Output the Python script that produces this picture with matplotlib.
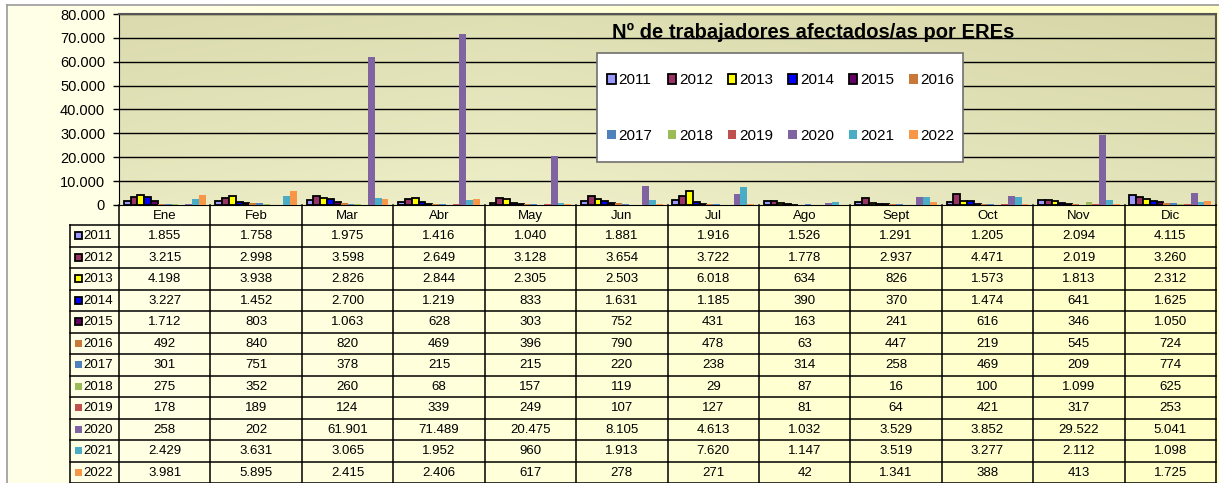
import numpy as np
import matplotlib
matplotlib.use('Agg')
import matplotlib.pyplot as plt
from matplotlib.patches import Rectangle
from matplotlib.colors import to_rgb

plt.rcParams['font.family'] = ['Liberation Sans', 'DejaVu Sans']

# ---------------- data ----------------
months = ['Ene', 'Feb', 'Mar', 'Abr', 'May', 'Jun', 'Jul', 'Ago', 'Sept', 'Oct', 'Nov', 'Dic']
years = ['2011', '2012', '2013', '2014', '2015', '2016', '2017', '2018', '2019', '2020', '2021', '2022']

v2011 = [1855, 1758, 1975, 1416, 1040, 1881, 1916, 1526, 1291, 1205, 2094, 4115]
v2012 = [3215, 2998, 3598, 2649, 3128, 3654, 3722, 1778, 2937, 4471, 2019, 3260]
v2013 = [4198, 3938, 2826, 2844, 2305, 2503, 6018, 634, 826, 1573, 1813, 2312]
v2014 = [3227, 1452, 2700, 1219, 833, 1631, 1185, 390, 370, 1474, 641, 1625]
v2015 = [1712, 803, 1063, 628, 303, 752, 431, 163, 241, 616, 346, 1050]
v2016 = [492, 840, 820, 469, 396, 790, 478, 63, 447, 219, 545, 724]
v2017 = [301, 751, 378, 215, 215, 220, 238, 314, 258, 469, 209, 774]
v2018 = [275, 352, 260, 68, 157, 119, 29, 87, 16, 100, 1099, 625]
v2019 = [178, 189, 124, 339, 249, 107, 127, 81, 64, 421, 317, 253]
v2020 = [258, 202, 61901, 71489, 20475, 8105, 4613, 1032, 3529, 3852, 29522, 5041]
v2021 = [2429, 3631, 3065, 1952, 960, 1913, 7620, 1147, 3519, 3277, 2112, 1098]
v2022 = [3981, 5895, 2415, 2406, 617, 278, 271, 42, 1341, 388, 413, 1725]

series = [v2011, v2012, v2013, v2014, v2015, v2016, v2017, v2018, v2019, v2020, v2021, v2022]
colors = ['#9999FF', '#993366', '#FFFF00', '#0000FF', '#660066', '#C87838',
          '#4F81BD', '#9BBB59', '#C0504D', '#8064A2', '#4BACC6', '#F79646']
edged = [True] * 5 + [False] * 7

title = 'Nº de trabajadores afectados/as por EREs'

# ---------------- layout ----------------
W, H = 1219, 483
fig = plt.figure(figsize=(W / 100, H / 100), dpi=100)
fig.patch.set_facecolor('white')


def fx(px):
    return px / W


def fy(py):
    return 1 - py / H


# chart area background (light yellow gradient)
bg = fig.add_axes([fx(7), 0, 1 - fx(7), fy(5)], zorder=0)
c1, c2 = np.array(to_rgb('#FFFFE8')), np.array(to_rgb('#FFFFC6'))
t = np.linspace(0, 1, 256)
grad = c1[None, :] * (1 - t[:, None]) + c2[None, :] * t[:, None]
bg.imshow(grad[None, :, :], extent=[0, 1, 0, 1], aspect='auto', transform=bg.transAxes)
bg.set_xlim(0, 1)
bg.set_ylim(0, 1)
bg.set_xticks([])
bg.set_yticks([])
for s in ['right', 'bottom']:
    bg.spines[s].set_visible(False)
for s in ['top', 'left']:
    bg.spines[s].set_color('#9a9a9a')
    bg.spines[s].set_linewidth(1.2)

# plot area
ax = fig.add_axes([fx(119), fy(205), fx(1216) - fx(119), fy(14) - fy(205)], zorder=2)
dark, light = np.array(to_rgb('#D6D6A8')), np.array(to_rgb('#EEEEC8'))
xn = np.linspace(0, 1, 200)[None, :]
yn = np.linspace(0, 1, 100)[:, None]
L = 0.6 * yn + 0.4 * np.clip(1 - np.abs(xn - 0.35) / 0.65, 0, 1)
img = dark[None, None, :] * (1 - L[..., None]) + light[None, None, :] * L[..., None]
ax.imshow(img, extent=[0, 1, 0, 1], aspect='auto', transform=ax.transAxes, zorder=0)

x = np.arange(len(months))
bw = 0.0745
for i, (vals, c, e) in enumerate(zip(series, colors, edged)):
    off = (i - (len(series) - 1) / 2) * bw
    ax.bar(x + off, vals, width=bw, color=c,
           edgecolor='black' if e else 'none', linewidth=1.3 if e else 0, zorder=3)

ax.set_xlim(-0.5, 11.5)
ax.set_ylim(0, 80000)
yt = np.arange(0, 80001, 10000)
ax.set_yticks(yt)
ax.set_yticklabels([f'{v:,}'.replace(',', '.') if v else '0' for v in yt], fontsize=10.5)
ax.set_xticks([])
ax.tick_params(axis='y', length=4, width=1, pad=6, colors='black')
for v in yt[1:]:
    ax.axhline(v, color='black', lw=1, zorder=1)
ax.spines['left'].set_color('black')
ax.spines['bottom'].set_color('black')
for s in ['top', 'right']:
    ax.spines[s].set_color('#555555')
    ax.spines[s].set_linewidth(1.5)

# legend box + legend
fig.patches.append(Rectangle((fx(597), fy(162)), fx(963) - fx(597), fy(53) - fy(162),
                             transform=fig.transFigure, facecolor='white', edgecolor='#707070',
                             linewidth=1.2, zorder=9))
handles = [Rectangle((0, 0), 1, 1, facecolor=c, edgecolor='black' if e else c, linewidth=1.3 if e else 0)
           for c, e in zip(colors, edged)]
order = []
for cidx in range(6):
    order += [cidx, cidx + 6]
leg = fig.legend([handles[k] for k in order], [years[k] for k in order], ncol=6,
                 loc='center', bbox_to_anchor=(fx(781), fy(108)), bbox_transform=fig.transFigure,
                 frameon=False, fontsize=11, handlelength=0.55, handleheight=0.55, handletextpad=0.2,
                 columnspacing=0.98, labelspacing=2.7, borderpad=0, borderaxespad=0)
leg.set_zorder(10)

fig.text(fx(813), fy(32), title, ha='center', va='center', fontsize=14.5, fontweight='bold', zorder=5)

# data table
lab_w = 49 / ((1216 - 119) / 12)
hdr = 20 / 21.5
nrows = len(years)
tax = fig.add_axes([fx(70), 0, fx(1216) - fx(70), fy(205)], zorder=3)
tax.set_xlim(-0.5 - lab_w, 11.5)
tax.set_ylim(hdr + nrows, 0)
tax.axis('off')
tax.patch.set_alpha(0)

lk = dict(color='black', lw=1.1, clip_on=False)
for j in range(len(months) + 1):
    tax.plot([-0.5 + j, -0.5 + j], [0, hdr + nrows], **lk)
tax.plot([-0.5 - lab_w, -0.5 - lab_w], [hdr, hdr + nrows], **lk)
for k in range(nrows + 1):
    tax.plot([-0.5 - lab_w, 11.5], [hdr + k, hdr + k], **lk)

for j, m in enumerate(months):
    tax.text(j, hdr / 2 + 0.03, m, ha='center', va='center', fontsize=9.5)

px_u = 1 / ((1216 - 119) / 12)
for k, (yr, vals, c, e) in enumerate(zip(years, series, colors, edged)):
    yc = hdr + k + 0.5
    sq_w = 7 * px_u
    sq_h = 7 / 21.5
    tax.add_patch(Rectangle((-0.5 - lab_w + 5 * px_u, yc - sq_h / 2), sq_w, sq_h,
                            facecolor=c, edgecolor='black' if e else c,
                            linewidth=1.3 if e else 0))
    tax.text(-0.5 - lab_w + 13 * px_u, yc + 0.03, yr, ha='left', va='center', fontsize=9.5)
    for j, v in enumerate(vals):
        tax.text(j, yc + 0.03, f'{v:,}'.replace(',', '.'), ha='center', va='center', fontsize=9.5)

fig.savefig('out.png', dpi=100)
